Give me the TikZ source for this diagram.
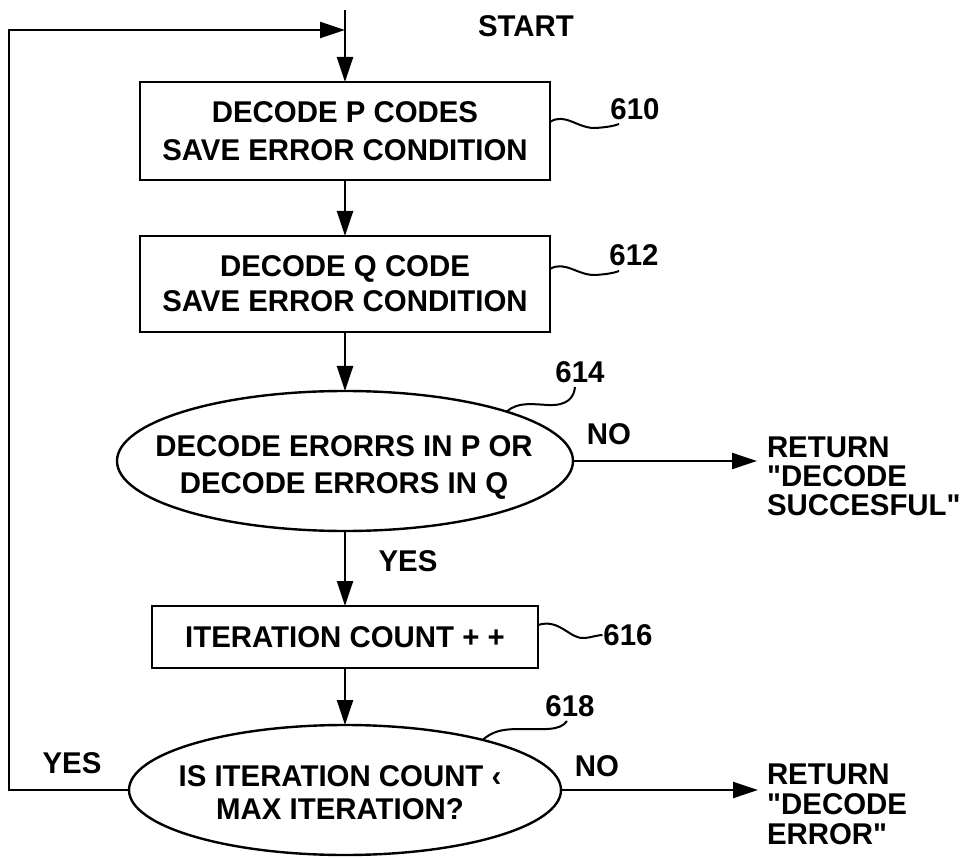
\documentclass[tikz,border=0pt]{standalone}
\usepackage{fontspec}
\setmainfont{Liberation Sans}[FakeStretch=0.98]
\usetikzlibrary{arrows.meta,shapes.geometric}
\newcommand\patfont[1]{\bfseries\fontsize{30}{#1}\selectfont}
\begin{document}
\begin{tikzpicture}[x=1pt,y=-1pt,
  every node/.style={font=\patfont{38}, inner sep=0pt, outer sep=0pt},
  box/.style={draw, line width=2.4pt, rectangle, align=center},
  ell/.style={draw, line width=2.4pt, ellipse},
  flow/.style={line width=2.4pt, -{Triangle[length=25pt,width=16pt]}},
  lead/.style={line width=2pt},
  ]
\useasboundingbox (0,0) rectangle (961,858);

% boxes and decisions
\node[box, minimum width=410pt, minimum height=98pt] (b610) at (345,131) {DECODE P CODES\\SAVE ERROR CONDITION};
\node[box, minimum width=410pt, minimum height=96pt, font=\patfont{35}] (b612) at (345,284) {DECODE Q CODE\\SAVE ERROR CONDITION};
\node[ell, minimum width=456pt, minimum height=140pt] (e614) at (345,461) {};
\node[align=center, font=\patfont{37}] (t614) at (344,467.5) {DECODE ERORRS IN P OR\\DECODE ERRORS IN Q};
\node[box, minimum width=386pt, minimum height=62pt] (b616) at (345,637) {ITERATION COUNT + +};
\node[ell, minimum width=432pt, minimum height=130pt] (e618) at (345,790) {};
\node[align=center, font=\patfont{33}] (t618) at (340,792.5) {IS ITERATION COUNT ‹\\MAX ITERATION?};

% labels
\node (start) at (526,26) {START};
\node (n610) at (635,109) {610};
\node (n612) at (634,255) {612};
\node (n614) at (580,372) {614};
\node (n616) at (628,635) {616};
\node (n618) at (570,706) {618};
\node (no1) at (609,434) {NO};
\node (no2) at (597,766) {NO};
\node (yes1) at (408,561) {YES};
\node (yes2) at (72,763) {YES};
\node[anchor=west, align=left, font=\patfont{29}] (ret1) at (767,476) {RETURN\\\textquotedbl DECODE\\SUCCESFUL\textquotedbl};
\node[anchor=west, align=left, font=\patfont{30}] (ret2) at (767,804) {RETURN\\\textquotedbl DECODE\\ERROR\textquotedbl};

% coordinates
\coordinate (top) at (345,10);
\coordinate (jn) at (345,30);
\coordinate (lt) at (9,30);
\coordinate (lb) at (9,790);
\coordinate (r1) at (757,461);
\coordinate (r2) at (758,790);

% connectors
\draw[flow] (top) -- (b610.north);
\draw[flow] (b610.south) -- (b612.north);
\draw[flow] (b612.south) -- (e614.north);
\draw[flow] (e614.south) -- (b616.north);
\draw[flow] (b616.south) -- (e618.north);
\draw[flow] (e614.east) -- (r1);
\draw[flow] (e618.east) -- (r2);
\draw[flow] (e618.west) -- (lb) -- (lt) -- (jn);

% leaders
\draw[lead] ([yshift=9pt]b610.east) .. controls (565,112) and (578,129) .. (596,128) .. controls (608,127) and (614,126) .. ([xshift=-16pt,yshift=-15pt]n610.center);
\draw[lead] ([yshift=15pt]b612.east) .. controls (565,260) and (578,276) .. (596,275) .. controls (608,274) and (614,273) .. ([xshift=-15pt,yshift=-16pt]n612.center);
\draw[lead] (e614.17) .. controls (518,402) and (530,404) .. (548,405) .. controls (568,406) and (574,397) .. ([xshift=-5pt,yshift=-15pt]n614.center);
\draw[lead] ([yshift=12pt]b616.east) .. controls (560,618) and (570,640) .. (585,638) .. controls (593,637) and (598,635) .. ([xshift=-1pt]n616.west);
\draw[lead] (e618.20) .. controls (492,732) and (500,729) .. (520,729) .. controls (545,729) and (560,731) .. ([xshift=-3pt,yshift=-15pt]n618.center);
\end{tikzpicture}
\end{document}
